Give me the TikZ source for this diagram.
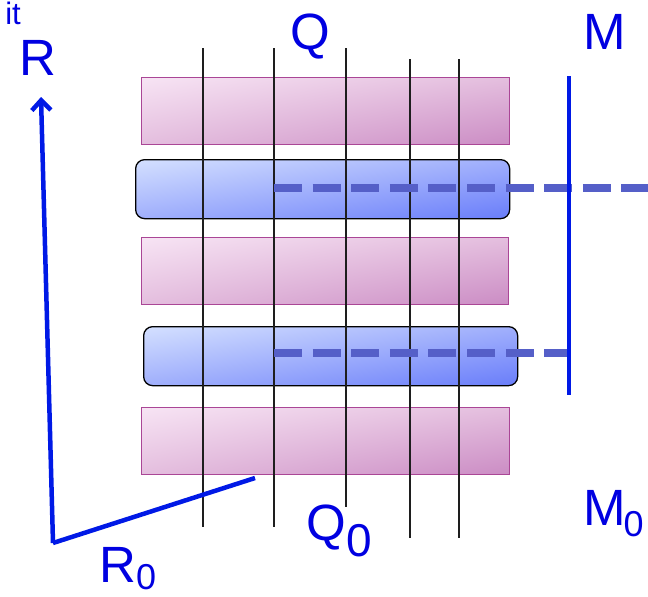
\documentclass[tikz,border=0pt]{standalone}
\usepackage{fontspec}
\setmainfont{Liberation Sans}
\usetikzlibrary{arrows.meta,shadings}
\definecolor{txtblue}{RGB}{0,0,225}
\definecolor{lnblue}{RGB}{0,25,230}
\definecolor{dashblue}{RGB}{85,95,200}
\definecolor{pinkA}{RGB}{247,228,244}
\definecolor{pinkB}{RGB}{228,190,222}
\definecolor{pinkC}{RGB}{203,140,196}
\definecolor{pinkedge}{RGB}{170,70,150}
\definecolor{blueA}{RGB}{212,224,255}
\definecolor{blueB}{RGB}{160,175,252}
\definecolor{blueC}{RGB}{105,125,250}
\definecolor{gridline}{RGB}{30,30,30}
\tikzset{
  pinkbar/.style={rectangle, anchor=north west, inner sep=0pt, draw=pinkedge, line width=1.3pt,
    upper left=pinkA, upper right=pinkB, lower left=pinkB, lower right=pinkC,
    minimum width=368pt, minimum height=67pt},
  bluebar/.style={rectangle, rounded corners=9pt, anchor=north west, inner sep=0pt, draw=black, line width=1.3pt,
    upper left=blueA, upper right=blueB, lower left=blueB, lower right=blueC,
    minimum height=59pt},
  gridln/.style={draw=gridline, line width=1.4pt},
  dashln/.style={draw=dashblue, line width=8pt, dash pattern=on 28pt off 10.6pt},
  axisln/.style={draw=lnblue, line width=4.5pt},
  lbl/.style={text=txtblue, inner sep=0pt, anchor=base west, font=\fontsize{51}{51}\selectfont}
}
\newcommand{\subzero}[3]{\kern#3{\fontsize{#1}{#1}\selectfont\raisebox{-#2}{0}}}
\begin{document}
\begin{tikzpicture}[x=1pt,y=-1pt]
\useasboundingbox (0,0) rectangle (648,597);
% bars
\node[pinkbar] (p1) at (141,77) {};
\node[bluebar, minimum width=374pt] (b1) at (135,159) {};
\node[pinkbar, minimum width=367pt] (p2) at (141,237) {};
\node[bluebar, minimum width=374pt] (b2) at (143,326) {};
\node[pinkbar] (p3) at (141,407) {};
% vertical grid lines
\coordinate (t1) at (203,48);  \coordinate (e1) at (203,527);
\coordinate (t2) at (274,48);  \coordinate (e2) at (274,527);
\coordinate (t3) at (346,48);  \coordinate (e3) at (346,507);
\coordinate (t4) at (410,59);  \coordinate (e4) at (410,538);
\coordinate (t5) at (459,59);  \coordinate (e5) at (459,538);
\foreach \i in {1,...,5} \draw[gridln] (t\i) -- (e\i);
% dashed lines
\coordinate (d1s) at (274,188); \coordinate (d1e) at (648,188);
\coordinate (d2s) at (274,353); \coordinate (d2e) at (569,353);
\draw[dashln] (d1s) -- (d1e);
\draw[dashln] (d2s) -- (d2e);
% M line
\coordinate (mt) at (569,76); \coordinate (mb) at (569,395);
\draw[axisln] (mt) -- (mb);
% R axes
\coordinate (origin) at (53,543);
\coordinate (rtip) at (41,97);
\coordinate (r0end) at (255,478);
\draw[axisln, -{Straight Barb[length=10pt,width=19pt]}] (origin) -- (rtip);
\draw[axisln, line cap=butt] (origin) -- (r0end);
% labels
\node[lbl] (R) at (19,75) {R};
\node[lbl] (Q) at (290,49) {Q};
\node[lbl] (M) at (583,49) {M};
\node[lbl] (Q0) at (306,540) {Q\subzero{46}{16pt}{1pt}};
\node[lbl] (M0) at (583,525) {M\subzero{36}{11pt}{-2pt}};
\node[lbl] (R0) at (99,582) {R\subzero{36}{7pt}{0pt}};
\node[text=txtblue, inner sep=0pt, anchor=base east, font=\fontsize{31}{31}\selectfont] (bit) at (21,24) {it};
\end{tikzpicture}
\end{document}
